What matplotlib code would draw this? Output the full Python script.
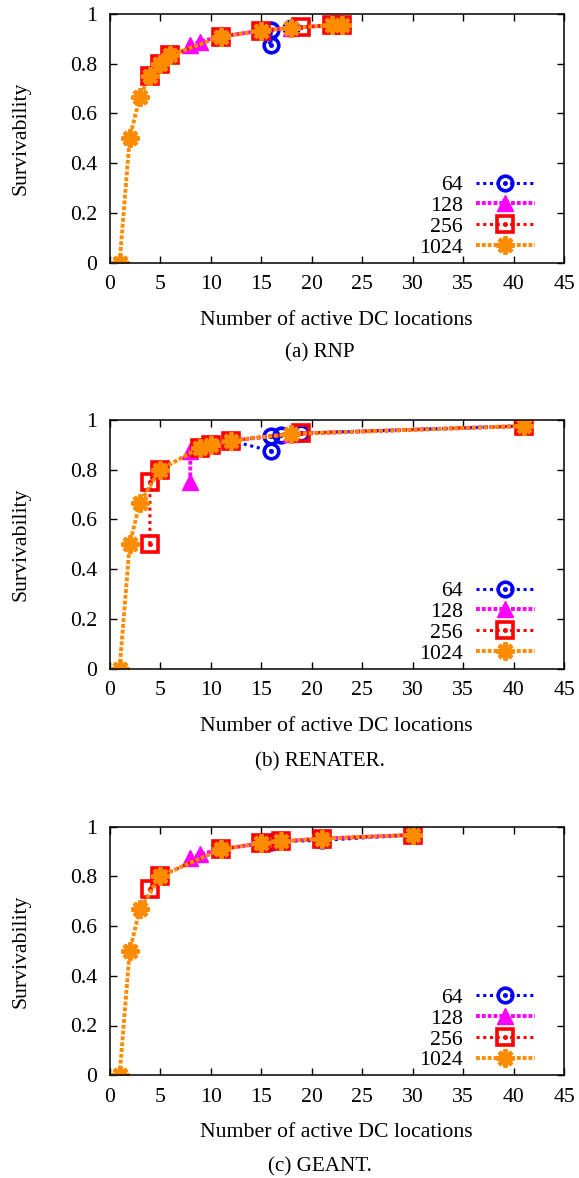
import matplotlib
matplotlib.use('Agg')
import matplotlib.pyplot as plt
from matplotlib.legend_handler import HandlerTuple
from matplotlib.ticker import FuncFormatter

plt.rcParams['font.family'] = ['Liberation Serif', 'DejaVu Serif']
plt.rcParams['font.size'] = 15.7

labels = ['64', '128', '256', '1024']
captions = ['(a) RNP', '(b) RENATER.', '(c) GEANT.']

# RNP
rnp_x = [
    [15, 16, 16, 18, 22, 23],
    [8, 9, 11, 15, 18, 22, 23],
    [4, 5, 6, 11, 15, 19, 22, 23],
    [1, 2, 3, 4, 5, 6, 11, 15, 18, 22, 23],
]
rnp_y = [
    [0.933, 0.875, 0.9375, 0.944, 0.955, 0.957],
    [0.875, 0.889, 0.909, 0.933, 0.944, 0.955, 0.957],
    [0.75, 0.8, 0.833, 0.909, 0.933, 0.947, 0.955, 0.957],
    [0.0, 0.5, 0.667, 0.75, 0.8, 0.833, 0.909, 0.933, 0.944, 0.955, 0.957],
]

# RENATER
renater_x = [
    [12, 16, 16, 17, 19, 41],
    [8, 8, 9, 10, 12, 18, 41],
    [4, 4, 5, 9, 10, 12, 19, 41],
    [1, 2, 3, 5, 9, 10, 12, 18, 41],
]
renater_y = [
    [0.917, 0.875, 0.9375, 0.941, 0.947, 0.976],
    [0.75, 0.875, 0.889, 0.9, 0.917, 0.944, 0.976],
    [0.5, 0.75, 0.8, 0.889, 0.9, 0.917, 0.947, 0.976],
    [0.0, 0.5, 0.667, 0.8, 0.889, 0.9, 0.917, 0.944, 0.976],
]

# GEANT
geant_x = [
    [15, 16, 17, 21, 30],
    [8, 9, 11, 15, 17, 21, 30],
    [4, 5, 11, 15, 17, 21, 30],
    [1, 2, 3, 5, 11, 15, 17, 21, 30],
]
geant_y = [
    [0.933, 0.9375, 0.941, 0.945, 0.967],
    [0.875, 0.889, 0.909, 0.933, 0.941, 0.952, 0.967],
    [0.75, 0.8, 0.909, 0.933, 0.941, 0.952, 0.967],
    [0.0, 0.5, 0.667, 0.8, 0.909, 0.933, 0.941, 0.952, 0.967],
]

panels = [(rnp_x, rnp_y), (renater_x, renater_y), (geant_x, geant_y)]

colors = ['#0000ff', '#ff00ff', '#ff0000', '#ff8c00']
styles = [
    dict(marker='o', ms=10.5, mfc='none', mew=2.6, lw=2.2, ls=(0, (1, 1.2))),
    dict(marker='^', ms=12, mew=1, lw=2.8, ls=(0, (1, 0.5))),
    dict(marker='s', ms=11.5, mfc='none', mew=2.6, lw=2.2, ls=(0, (1, 1.2))),
    dict(marker=(8, 2, 0), ms=13, mew=3.0, lw=2.8, ls=(0, (1, 0.5))),
]
has_dot = [True, False, True, False]

fig = plt.figure(figsize=(5.79, 11.78), dpi=100)
W, H = 579, 1178
ax_left, ax_w, ax_h = 109.5, 454.5, 248.5
ax_tops = [14, 420, 826.7]
cap_y = [353, 762, 1167]

for p, (xs, ys) in enumerate(panels):
    top = ax_tops[p]
    ax = fig.add_axes([ax_left / W, 1 - (top + ax_h) / H, ax_w / W, ax_h / H])
    handles = []
    for i in range(4):
        line, = ax.plot(xs[i], ys[i], color=colors[i], mec=colors[i], **styles[i])
        if has_dot[i]:
            dot, = ax.plot(xs[i], ys[i], ls='none', marker='o', ms=2.5,
                           color=colors[i])
            handles.append((line, dot))
        else:
            handles.append(line)
    ax.set_xlim(0, 45)
    ax.set_ylim(0, 1)
    ax.set_xticks(range(0, 46, 5))
    ax.set_yticks([0, 0.2, 0.4, 0.6, 0.8, 1.0])
    ax.yaxis.set_major_formatter(FuncFormatter(lambda v, pos: '%g' % v))
    ax.tick_params(direction='in', top=True, right=True, length=5, width=1,
                   pad=9)
    for s in ax.spines.values():
        s.set_linewidth(1.1)
    ax.set_xlabel('Number of active DC locations', labelpad=12)
    ax.set_ylabel('Survivability', labelpad=28)
    ax.legend(handles, labels, loc='lower right', bbox_to_anchor=(0.936, 0.02),
              frameon=False, markerfirst=False, handlelength=2.7,
              handletextpad=0.6, labelspacing=0.02, borderpad=0,
              borderaxespad=0, handler_map={tuple: HandlerTuple(ndivide=1)})
    fig.text(320 / W, 1 - cap_y[p] / H, captions[p], fontsize=15.2,
             ha='center', va='center')

fig.savefig('out.png', dpi=100)
